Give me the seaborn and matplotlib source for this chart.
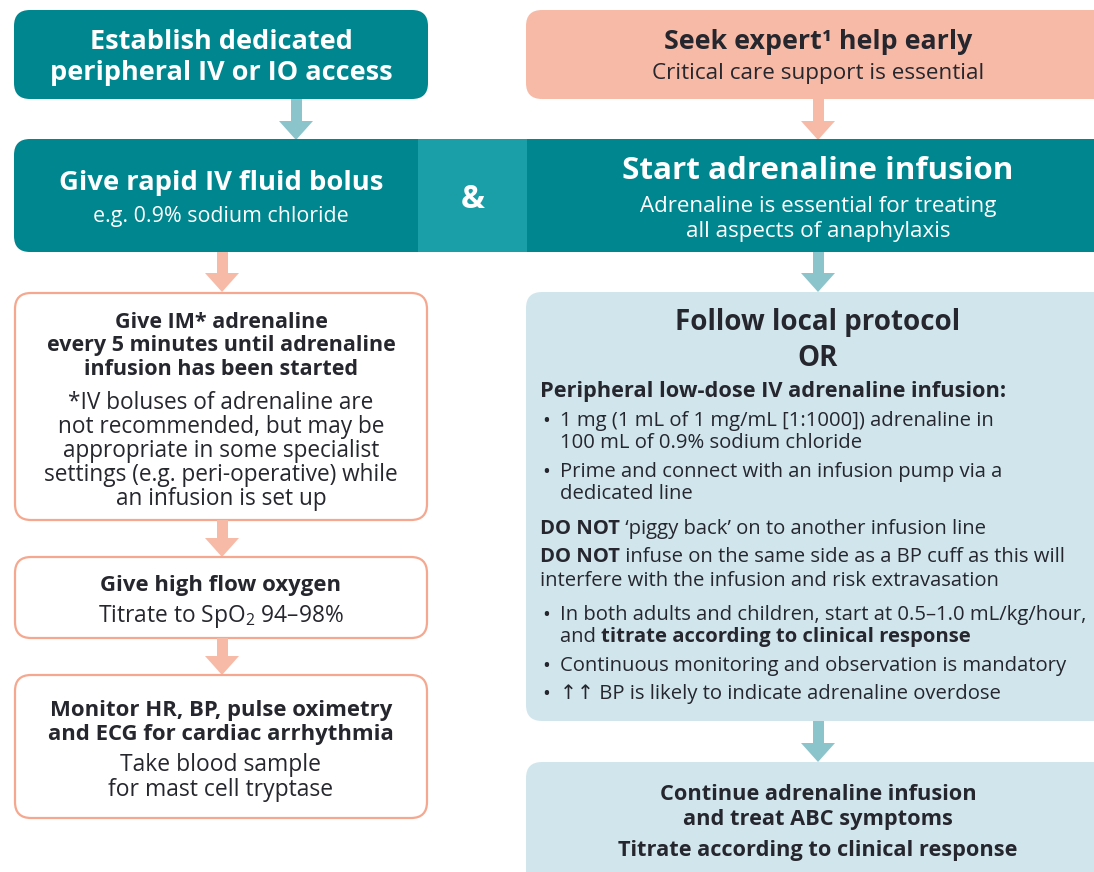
import matplotlib
matplotlib.use("Agg")
import matplotlib.pyplot as plt
import seaborn as sns
from matplotlib.patches import FancyBboxPatch, Rectangle, Polygon

# -----------------------------
# TEXT CONTENT
# -----------------------------
access_lines = ["Establish dedicated", "peripheral IV or IO access"]
expert_title = "Seek expert¹ help early"
expert_sub = "Critical care support is essential"
fluid_title = "Give rapid IV fluid bolus"
fluid_sub = "e.g. 0.9% sodium chloride"
amp_label = "&"
infusion_title = "Start adrenaline infusion"
infusion_sub = ["Adrenaline is essential for treating", "all aspects of anaphylaxis"]
im_bold = ["Give IM* adrenaline", "every 5 minutes until adrenaline", "infusion has been started"]
im_note = ["*IV boluses of adrenaline are", "not recommended, but may be",
           "appropriate in some specialist", "settings (e.g. peri-operative) while",
           "an infusion is set up"]
oxygen_title = "Give high flow oxygen"
oxygen_sub = "Titrate to SpO$_{2}$ 94–98%"
monitor_bold = ["Monitor HR, BP, pulse oximetry", "and ECG for cardiac arrhythmia"]
monitor_sub = ["Take blood sample", "for mast cell tryptase"]
protocol_title = ["Follow local protocol", "OR"]
protocol_head = "Peripheral low-dose IV adrenaline infusion:"
protocol_bullets_a = [["1 mg (1 mL of 1 mg/mL [1:1000]) adrenaline in", "100 mL of 0.9% sodium chloride"],
                      ["Prime and connect with an infusion pump via a", "dedicated line"]]
do_not = [("DO NOT", " ‘piggy back’ on to another infusion line", None),
          ("DO NOT", " infuse on the same side as a BP cuff as this will",
           "interfere with the infusion and risk extravasation")]
protocol_bullets_b = ["Continuous monitoring and observation is mandatory",
                      "↑↑ BP is likely to indicate adrenaline overdose"]
rate_line = ["In both adults and children, start at 0.5–1.0 mL/kg/hour,", "and ", "titrate according to clinical response"]
continue_bold = ["Continue adrenaline infusion", "and treat ABC symptoms", "Titrate according to clinical response"]

# -----------------------------
# STYLE
# -----------------------------
sns.set_theme(style="white")
plt.rcParams["font.family"] = ["Open Sans", "DejaVu Sans"]
plt.rcParams["mathtext.fontset"] = "custom"
plt.rcParams["mathtext.rm"] = "Open Sans"
plt.rcParams["mathtext.default"] = "regular"

TEAL = "#00868f"
TEAL_AMP = "#1a9fa9"
TEAL_ARROW = "#8cc4cc"
SALMON = "#f7baa7"
SALMON_LINE = "#f5a88f"
LIGHT_BLUE = "#d1e6ec"
INK = "#26262e"
DY = 2  # small downward nudge so glyphs sit like the original

fig = plt.figure(figsize=(10.94, 8.72), dpi=100)
ax = fig.add_axes([0, 0, 1, 1])
ax.set_xlim(0, 1094)
ax.set_ylim(872, 0)
ax.axis("off")


def rbox(x0, y0, x1, y1, fc, ec="none", lw=0, r=16):
    ax.add_patch(FancyBboxPatch((x0, y0), x1 - x0, y1 - y0,
                                boxstyle=f"round,pad=0,rounding_size={r}",
                                fc=fc, ec=ec, lw=lw))


def down_arrow(xc, y0, y1, color, shaft=11, head=34, head_len=19):
    ax.add_patch(Rectangle((xc - shaft / 2, y0), shaft, y1 - y0 - head_len + 1, fc=color, ec="none"))
    ax.add_patch(Polygon([(xc - head / 2, y1 - head_len), (xc + head / 2, y1 - head_len), (xc, y1)],
                         closed=True, fc=color, ec="none"))


def ctext(x, y, s, size, bold=False, color=INK, **kw):
    ax.text(x, y + DY, s, ha="center", va="center", fontsize=size,
            fontweight="bold" if bold else "normal", color=color, **kw)


def ltext(x, y, s, size, bold=False, color=INK):
    return ax.text(x, y + DY, s, ha="left", va="center", fontsize=size,
                   fontweight="bold" if bold else "normal", color=color)


renderer = fig.canvas.get_renderer()


def mixed(x, y, parts, size):
    # parts: list of (text, bold) drawn one after another
    for s, b in parts:
        t = ltext(x, y, s, size, bold=b)
        bb = t.get_window_extent(renderer=renderer)
        x = x + bb.width * 1094 / fig.bbox.width


def bullet(y):
    ax.text(546, y + DY, "•", ha="center", va="center", fontsize=15, color=INK)


# -----------------------------
# ROW 1
# -----------------------------
rbox(14, 10, 428, 99, TEAL)
ctext(221, 40, access_lines[0], 19.5, bold=True, color="white")
ctext(221, 71, access_lines[1], 19.5, bold=True, color="white")

rbox(526, 10, 1130, 99, SALMON)
ctext(818, 40, expert_title, 19.3, bold=True)
ctext(818, 72, expert_sub, 16.2)

down_arrow(296, 99, 140, TEAL_ARROW)
down_arrow(818, 99, 140, SALMON)

# -----------------------------
# ROW 2
# -----------------------------
rbox(14, 139, 440, 252, TEAL)
ax.add_patch(Rectangle((526, 139), 600, 113, fc=TEAL, ec="none"))
ax.add_patch(Rectangle((418, 139), 109, 113, fc=TEAL_AMP, ec="none"))
ctext(221, 181, fluid_title, 19.7, bold=True, color="white")
ctext(221, 214, fluid_sub, 15.4, color="white")
ctext(473, 197, amp_label, 23, bold=True, color="white")
ctext(818, 169, infusion_title, 22.6, bold=True, color="white")
ctext(818, 204, infusion_sub[0], 16.1, color="white")
ctext(818, 229, infusion_sub[1], 16.1, color="white")

# -----------------------------
# LEFT COLUMN
# -----------------------------
down_arrow(222, 252, 292, SALMON)
rbox(15, 293, 427, 520, "white", ec=SALMON_LINE, lw=1.6)
for i, s in enumerate(im_bold):
    ctext(221, 320 + i * 23.5, s, 15.5, bold=True)
for i, s in enumerate(im_note):
    ctext(221, 401 + i * 24, s, 16.3)

down_arrow(222, 520, 557, SALMON)
rbox(15, 557, 427, 638, "white", ec=SALMON_LINE, lw=1.6)
ctext(221, 583, oxygen_title, 15.9, bold=True)
ctext(221, 614, oxygen_sub, 16.4)

down_arrow(222, 638, 675, SALMON)
rbox(15, 675, 427, 818, "white", ec=SALMON_LINE, lw=1.6)
for i, s in enumerate(monitor_bold):
    ctext(221, 708 + i * 24, s, 15.9, bold=True)
for i, s in enumerate(monitor_sub):
    ctext(221, 763 + i * 25, s, 16.5)

# -----------------------------
# RIGHT COLUMN
# -----------------------------
down_arrow(818, 252, 292, TEAL_ARROW)
rbox(526, 292, 1130, 721, LIGHT_BLUE)
ctext(818, 320, protocol_title[0], 20, bold=True)
ctext(818, 356, protocol_title[1], 20, bold=True)
ltext(540, 389, protocol_head, 15.7, bold=True)

tx = 560
bsize = 14.6
y = 419
for lines in protocol_bullets_a:
    bullet(y)
    for j, s in enumerate(lines):
        ltext(tx, y + j * 22, s, bsize)
    y += 51

mixed(540, 527, [(do_not[0][0], True), (do_not[0][1], False)], bsize)
mixed(540, 555, [(do_not[1][0], True), (do_not[1][1], False)], bsize)
ltext(540, 579, do_not[1][2], bsize)

bullet(613)
ltext(tx, 613, rate_line[0], bsize)
mixed(tx, 635, [(rate_line[1], False), (rate_line[2], True)], bsize)
for k, s in enumerate(protocol_bullets_b):
    bullet(664 + k * 28)
    ltext(tx, 664 + k * 28, s, bsize)

down_arrow(818, 721, 762, TEAL_ARROW)
rbox(526, 762, 1130, 900, LIGHT_BLUE)
ctext(818, 792, continue_bold[0], 15.7, bold=True)
ctext(818, 817, continue_bold[1], 15.7, bold=True)
ctext(818, 848, continue_bold[2], 15.7, bold=True)

plt.savefig("out.png", dpi=100)
